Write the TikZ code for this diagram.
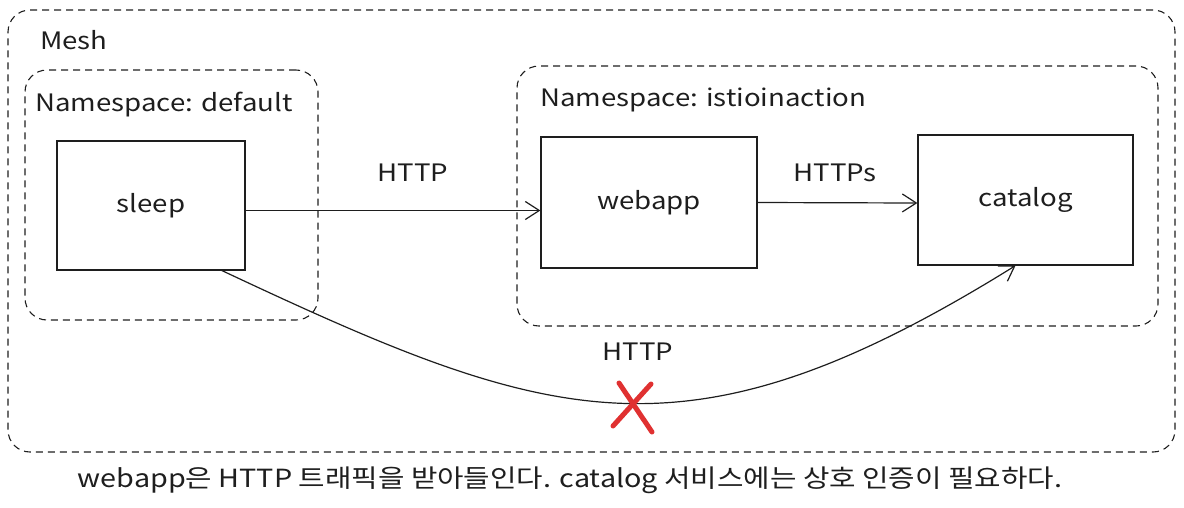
\documentclass[tikz,border=0pt]{standalone}
\usepackage{fontspec}
\setmainfont{Noto Sans CJK KR}[FakeStretch=1.15]
\usetikzlibrary{arrows.meta}
\definecolor{ink}{HTML}{1E1E1E}
\definecolor{xred}{HTML}{E03131}
\begin{document}
\begin{tikzpicture}[x=1pt,y=-1pt,
  grp/.style={draw=ink, line width=1.1pt, dash pattern=on 7pt off 5pt, rounded corners=22pt, inner sep=0pt},
  svc/.style={draw=ink, line width=1.2pt, inner sep=0pt, text=ink, font=\fontsize{24}{28}\selectfont},
  lbl/.style={text=ink, inner sep=0pt, font=\fontsize{24}{28}\selectfont},
  caplbl/.style={text=ink, inner sep=0pt, font=\fontsize{25}{30}\selectfont},
  conn/.style={draw=ink, line width=1.2pt, -{Straight Barb[length=14pt,width=18pt,line width=1.2pt]}},
  cross/.style={draw=xred, line width=5pt, line cap=round},
]
\useasboundingbox (0,0) rectangle (1184,507);
% groups
\node[grp, minimum width=1167pt, minimum height=442pt] (mesh) at (591.5,231) {};
\node[grp, minimum width=293pt, minimum height=250pt] (nsdef) at (171.5,195) {};
\node[grp, minimum width=641pt, minimum height=260pt] (nsist) at (837.5,196) {};
\node[lbl, anchor=base west] (meshlbl) at (40,49) {Mesh};
\node[lbl, anchor=base west] (nsdeflbl) at (35,111) {Namespace: default};
\node[lbl, anchor=base west] (nsistlbl) at (540,106) {Namespace: istioinaction};
% services
\node[svc, minimum width=188pt, minimum height=129pt] (sleep) at (151,205.5) {sleep};
\node[svc, minimum width=216pt, minimum height=131pt] (webapp) at (649,202.5) {webapp};
\node[svc, minimum width=215pt, minimum height=130pt] (catalog) at (1025.5,200) {catalog};
% connectors
\draw[conn] ([yshift=-5pt]sleep.east) -- ([yshift=-8pt]webapp.west);
\node[lbl] (l1) at (413,173) {HTTP};
\draw[conn] (webapp.east) -- ([yshift=-3pt]catalog.west);
\node[lbl] (l2) at (835,173) {HTTPs};
\coordinate (cs) at ([xshift=71pt]sleep.south);
\coordinate (ce) at ([xshift=-10pt]catalog.south);
\draw[conn] (cs) .. controls +(330,155) and +(-330,205) .. (ce);
\node[lbl] (l3) at (638,352) {HTTP};
% red cross
\coordinate (xa) at (619,383);
\coordinate (xb) at (652,432);
\coordinate (xc) at (651,384);
\coordinate (xd) at (613,426);
\draw[cross] (xa) -- (xb);
\draw[cross] (xc) -- (xd);
% caption
\node[caplbl] (cap) at (570,480) {webapp은 HTTP 트래픽을 받아들인다. catalog 서비스에는 상호 인증이 필요하다.};
\end{tikzpicture}
\end{document}
